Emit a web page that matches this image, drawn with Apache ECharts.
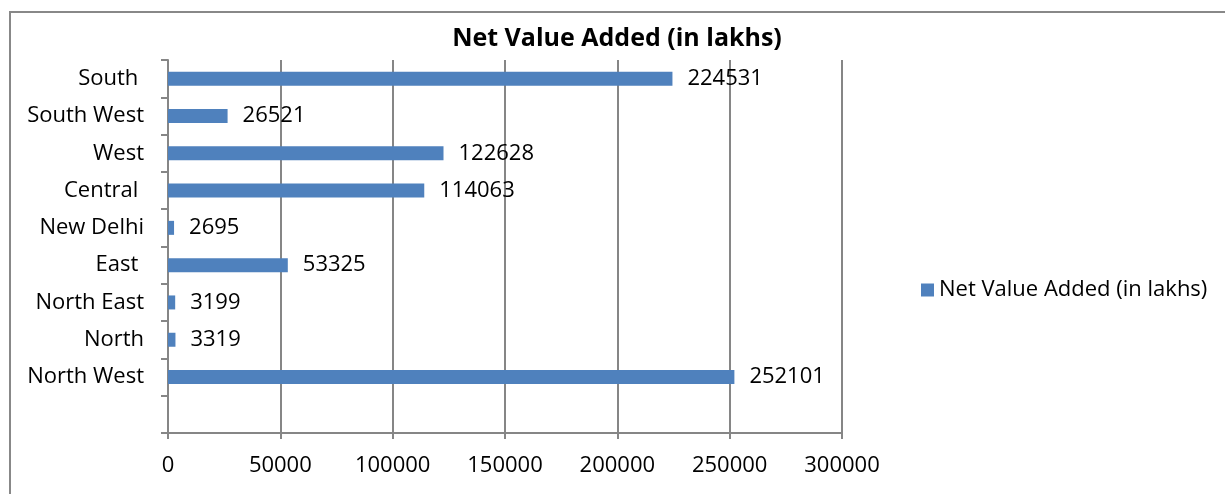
<!DOCTYPE html>
<html>
<head>
<meta charset="utf-8">
<script src="https://cdn.jsdelivr.net/npm/echarts@6/dist/echarts.min.js"></script>
<style>
  html, body { margin: 0; padding: 0; background: #fff; }
  #main { width: 1225px; height: 494px; }
</style>
</head>
<body>
<div id="main"></div>
<script>
var regions = ['', 'North West', 'North', 'North East', 'East ', 'New Delhi', 'Central ', 'West', 'South West', 'South '];
var netValue = [null, 252101, 3319, 3199, 53325, 2695, 114063, 122628, 26521, 224531];
var xTicks = [0, 50000, 100000, 150000, 200000, 250000, 300000];

var myChart = echarts.init(document.getElementById('main'));
var font = 'Open Sans, Liberation Sans, sans-serif';

var option = {
    animation: false,
    title: {
        text: 'Net Value Added (in lakhs)',
        left: 612,
        textAlign: 'center',
        top: 21,
        textStyle: { fontFamily: font, fontSize: 25, fontWeight: 'bold', color: '#000' }
    },
    legend: {
        data: ['Net Value Added (in lakhs)'],
        left: 916,
        top: 274,
        orient: 'vertical',
        itemWidth: 13,
        itemHeight: 13,
        itemGap: 6,
        icon: 'rect',
        textStyle: { fontFamily: font, fontSize: 22, color: '#000' }
    },
    grid: { left: 168, right: 383, top: 60, bottom: 61 },
    xAxis: {
        type: 'value',
        min: xTicks[0],
        max: xTicks[xTicks.length - 1],
        interval: 50000,
        axisLine: { show: true, lineStyle: { color: '#868686', width: 2 } },
        axisTick: { show: true, length: 6, lineStyle: { color: '#868686', width: 2 } },
        splitLine: { show: true, lineStyle: { color: '#868686', width: 2 } },
        axisLabel: {
            fontFamily: font, fontSize: 22, color: '#000', margin: 22,
            formatter: function (v) { return String(v); }
        }
    },
    yAxis: {
        type: 'category',
        data: regions,
        axisLine: { show: true, lineStyle: { color: '#868686', width: 2 } },
        axisTick: { show: true, length: 7, lineStyle: { color: '#868686', width: 2 } },
        axisLabel: { fontFamily: font, fontSize: 22, color: '#000', margin: 24 }
    },
    series: [{
        name: 'Net Value Added (in lakhs)',
        type: 'bar',
        data: netValue,
        barWidth: 14,
        itemStyle: { color: '#4F81BD' },
        label: {
            show: true,
            position: 'right',
            distance: 15,
            fontFamily: font,
            fontSize: 22,
            color: '#000'
        }
    }],
    graphic: [{
        type: 'rect',
        shape: { x: 10, y: 12, width: 1240, height: 500 },
        style: { fill: 'none', stroke: '#888', lineWidth: 2 },
        silent: true
    }]
};
myChart.setOption(option);
</script>
</body>
</html>
